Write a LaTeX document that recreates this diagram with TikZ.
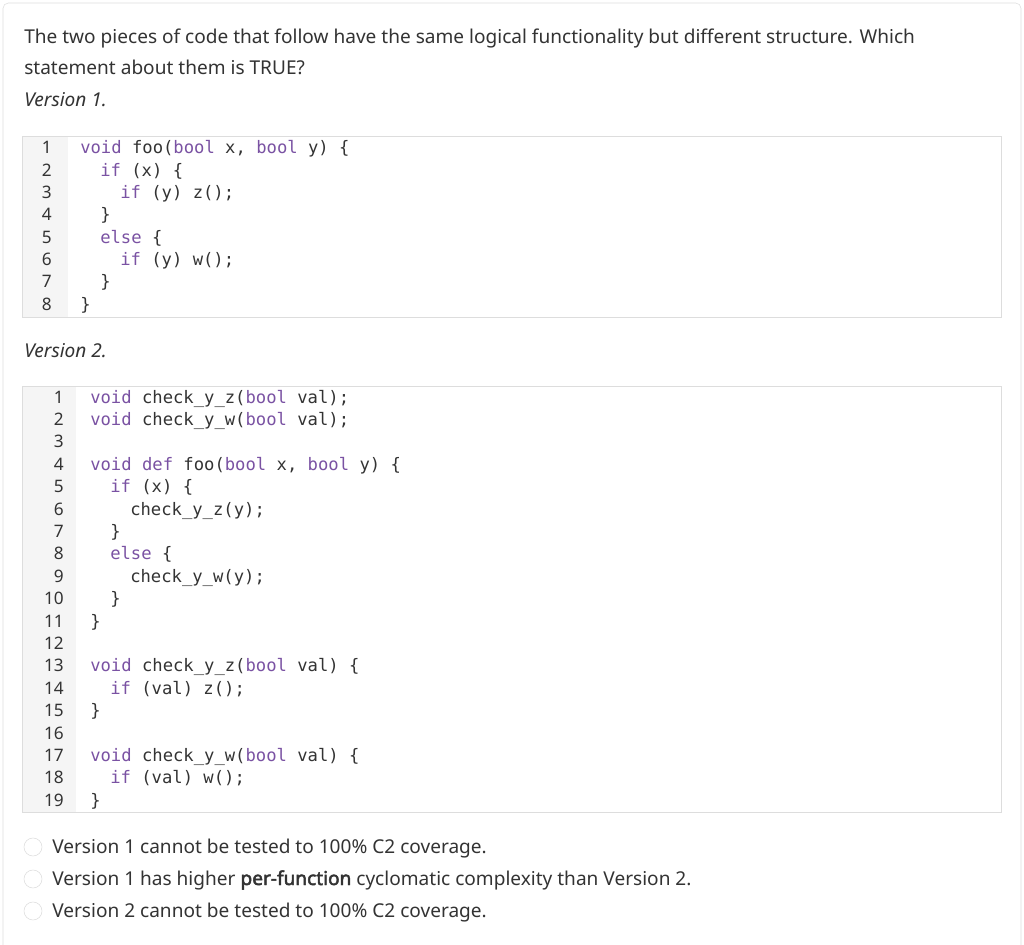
\documentclass[tikz,border=0pt]{standalone}
\usepackage{fontspec}
\setmainfont{Noto Sans}[AutoFakeBold=2.5]
\setmonofont{DejaVu Sans Mono}
\definecolor{txt}{HTML}{333333}
\definecolor{kwc}{HTML}{7A52A3}
\definecolor{gut}{HTML}{F5F5F5}
\definecolor{bord}{HTML}{DDDDDD}
\newcommand{\kw}[1]{\textcolor{kwc}{#1}}
\begin{document}
\begin{tikzpicture}[x=0.75pt,y=-0.75pt,
  body/.style={anchor=base west,inner sep=0pt,text=txt,font=\fontsize{14.3pt}{17pt}\selectfont},
  code/.style={anchor=base west,inner sep=0pt,text=txt,font=\ttfamily\fontsize{12.9pt}{15pt}\selectfont},
  num/.style={anchor=base east,inner sep=0pt,text=txt,font=\fontsize{12.9pt}{15pt}\selectfont},
  radio/.style={circle,draw=bord,fill=white,minimum size=13.5pt,inner sep=0pt}]
\useasboundingbox (0,0) rectangle (1024,945);
\fill[white] (0,0) rectangle (1024,945);
\draw[bord,rounded corners=4pt] (3,3) -- (1021,3) -- (1021,960) -- (3,960) -- cycle;
\node[body] (t1) at (24,44) {The two pieces of code that follow have the same logical functionality but different structure. Which};
\node[body] (t2) at (24,75) {statement about them is TRUE?};
\node[body,font=\itshape\fontsize{14.3pt}{17pt}\selectfont] (v1) at (24,107) {Version 1.};
% box 1
\fill[gut] (22,136) rectangle (68,317);
\draw[bord] (22,136) rectangle (1001,317);
\foreach \i in {1,...,8} { \node[num] (a\i) at (52,{148+6+(\i-1)*22.3}) {\i}; }
\node[code] (c1) at (80,154) {\kw{void} foo(\kw{bool} x, \kw{bool} y) \{};
\node[code] (c2) at (100,176.3) {\kw{if} (x) \{};
\node[code] (c3) at (120,198.6) {\kw{if} (y) z();};
\node[code] (c4) at (100,220.9) {\}};
\node[code] (c5) at (100,243.2) {\kw{else} \{};
\node[code] (c6) at (120,265.5) {\kw{if} (y) w();};
\node[code] (c7) at (100,287.8) {\}};
\node[code] (c8) at (80,310.1) {\}};
\node[body,font=\itshape\fontsize{14.3pt}{17pt}\selectfont] (v2) at (24,357) {Version 2.};
% box 2
\fill[gut] (22,386) rectangle (76,812);
\draw[bord] (22,386) rectangle (1001,812);
\foreach \i in {1,...,19} { \node[num] (b\i) at (64,{397+6+(\i-1)*22.4}) {\i}; }
\def\ly#1{{397+6+(#1-1)*22.4}}
\node[code] (d1) at (90,\ly{1}) {\kw{void} check\_y\_z(\kw{bool} val);};
\node[code] (d2) at (90,\ly{2}) {\kw{void} check\_y\_w(\kw{bool} val);};
\node[code] (d4) at (90,\ly{4}) {\kw{void} \kw{def} foo(\kw{bool} x, \kw{bool} y) \{};
\node[code] (d5) at (110,\ly{5}) {\kw{if} (x) \{};
\node[code] (d6) at (130,\ly{6}) {check\_y\_z(y);};
\node[code] (d7) at (110,\ly{7}) {\}};
\node[code] (d8) at (110,\ly{8}) {\kw{else} \{};
\node[code] (d9) at (130,\ly{9}) {check\_y\_w(y);};
\node[code] (d10) at (110,\ly{10}) {\}};
\node[code] (d11) at (90,\ly{11}) {\}};
\node[code] (d13) at (90,\ly{13}) {\kw{void} check\_y\_z(\kw{bool} val) \{};
\node[code] (d14) at (110,\ly{14}) {\kw{if} (val) z();};
\node[code] (d15) at (90,\ly{15}) {\}};
\node[code] (d17) at (90,\ly{17}) {\kw{void} check\_y\_w(\kw{bool} val) \{};
\node[code] (d18) at (110,\ly{18}) {\kw{if} (val) w();};
\node[code] (d19) at (90,\ly{19}) {\}};
% options
\node[radio] (r1) at (33,847) {};
\node[radio] (r2) at (33,879) {};
\node[radio] (r3) at (33,911) {};
\node[body] (o1) at (52,853) {Version 1 cannot be tested to 100\% C2 coverage.};
\node[body] (o2) at (52,885) {Version 1 has higher \textbf{per-function} cyclomatic complexity than Version 2.};
\node[body] (o3) at (52,917) {Version 2 cannot be tested to 100\% C2 coverage.};
\end{tikzpicture}
\end{document}
